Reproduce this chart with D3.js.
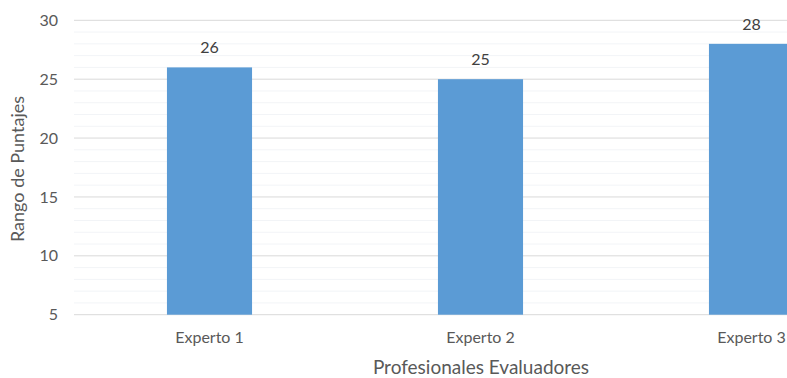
<!DOCTYPE html>
<html>
<head>
<meta charset="utf-8">
<script src="https://cdn.jsdelivr.net/npm/d3@7"></script>
<style>
  html, body { margin: 0; padding: 0; background: #fff; overflow: hidden; }
  svg { display: block; font-family: Lato, "Open Sans", sans-serif; }
</style>
</head>
<body>
<svg id="chart" width="787" height="378"></svg>
<script>
// Puntajes por profesional evaluador
const categories = ["Experto 1", "Experto 2", "Experto 3"];
const values = [26, 25, 28];
const yTicks = [5, 10, 15, 20, 25, 30];
const yMinor = d3.range(5, 31, 1);

const svg = d3.select("#chart");

// Plot area extends past the right edge of the view
const x = d3.scaleBand()
  .domain(categories)
  .range([74, 887])
  .paddingInner(0.686)
  .paddingOuter(0.343);

const y = d3.scaleLinear()
  .domain([5, 30])
  .range([314.7, 20.3]);

// Minor gridlines
svg.append("g")
  .selectAll("line")
  .data(yMinor.filter(v => !yTicks.includes(v)))
  .join("line")
  .attr("x1", 74).attr("x2", 787)
  .attr("y1", d => y(d)).attr("y2", d => y(d))
  .attr("stroke", "#f2f4f7").attr("stroke-width", 1);

// Major gridlines
svg.append("g")
  .selectAll("line")
  .data(yTicks)
  .join("line")
  .attr("x1", 74).attr("x2", 787)
  .attr("y1", d => y(d)).attr("y2", d => y(d))
  .attr("stroke", "#d9d9d9").attr("stroke-width", 1);

// Y axis tick labels
const yAxis = d3.axisLeft(y).tickValues(yTicks).tickSize(0).tickPadding(0);
const gy = svg.append("g").attr("transform", "translate(58,0)").call(yAxis);
gy.select(".domain").remove();
gy.selectAll("text")
  .attr("fill", "#595959")
  .style("font-size", "16px")
  .style("font-family", "Lato, 'Open Sans', sans-serif");

// Bars
svg.append("g")
  .selectAll("rect")
  .data(categories.map((c, i) => ({ c, v: values[i] })))
  .join("rect")
  .attr("x", d => x(d.c))
  .attr("width", x.bandwidth())
  .attr("y", d => y(d.v))
  .attr("height", d => y(5) - y(d.v))
  .attr("fill", "#5b9bd5");

// Value labels
svg.append("g")
  .selectAll("text")
  .data(categories.map((c, i) => ({ c, v: values[i] })))
  .join("text")
  .attr("x", d => x(d.c) + x.bandwidth() / 2)
  .attr("y", d => y(d.v) - 14)
  .attr("text-anchor", "middle")
  .attr("fill", "#404040")
  .style("font-size", "16px")
  .text(d => d.v);

// X axis category labels
const xAxis = d3.axisBottom(x).tickSize(0).tickPadding(0);
const gx = svg.append("g").attr("transform", "translate(0,332)").call(xAxis);
gx.select(".domain").remove();
gx.selectAll("text")
  .attr("fill", "#595959")
  .style("font-size", "16px")
  .style("font-family", "Lato, 'Open Sans', sans-serif");

// Axis titles
svg.append("text")
  .attr("x", 481)
  .attr("y", 374)
  .attr("text-anchor", "middle")
  .attr("fill", "#595959")
  .style("font-size", "19px")
  .text("Profesionales Evaluadores");

svg.append("text")
  .attr("transform", "translate(24,169) rotate(-90)")
  .attr("text-anchor", "middle")
  .attr("fill", "#595959")
  .style("font-size", "18px")
  .text("Rango de Puntajes");
</script>
</body>
</html>
